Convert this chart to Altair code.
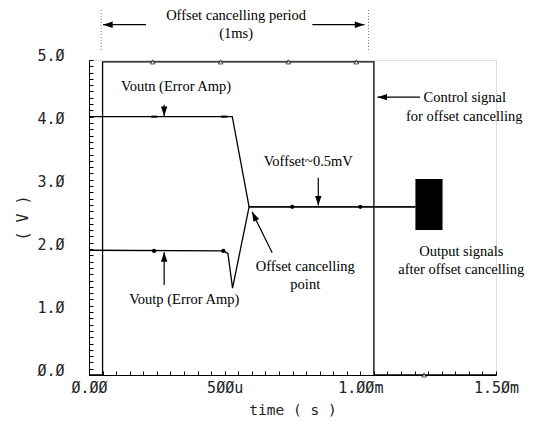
import altair as alt
import pandas as pd

# ---------------- data (time in ms, voltage in V) ----------------
ctrl_t = [0.0, 0.05, 0.05, 1.05, 1.05, 1.5]
ctrl_v = [0.0, 0.0, 4.97, 4.97, 0.0, 0.0]
voutn_t = [0.0, 0.528, 0.59, 1.203]
voutn_v = [4.10, 4.10, 2.67, 2.67]
voutp_t = [0.0, 0.496, 0.512, 0.529, 0.59, 1.203]
voutp_v = [1.98, 1.97, 1.93, 1.38, 2.67, 2.67]

ctrl_mark_t = [0.235, 0.485, 0.735, 0.985, 1.235]
ctrl_mark_v = [4.97, 4.97, 4.97, 4.97, 0.0]
voutn_mark_t = [0.24, 0.498]
voutn_mark_v = [4.10, 4.10]
voutp_mark_t = [0.24, 0.495]
voutp_mark_v = [1.97, 1.97]
common_mark_t = [0.749, 1.0]
common_mark_v = [2.67, 2.67]

burst_t = [1.203, 1.303]
burst_v = [2.30, 3.11]

x_major = [0.0, 0.5, 1.0, 1.5]
x_major_labels = ["0.00", "500u", "1.00m", "1.50m"]
y_major = [0, 1, 2, 3, 4, 5]
y_major_labels = ["0.0", "1.0", "2.0", "3.0", "4.0", "5.0"]
x_minor_step = 0.05
y_minor_step = 0.1

note_text = ["Offset cancelling period", "(1ms)", "Voutn (Error Amp)",
             "Control signal", "for offset cancelling", "Voffset~0.5mV",
             "Output signals", "after offset cancelling",
             "Offset cancelling", "point", "Voutp (Error Amp)"]
note_t = [0.542, 0.542, 0.321, 1.385, 1.383, 0.808, 1.372, 1.372, 0.797, 0.797, 0.351]
note_v = [5.70, 5.41, 4.57, 4.40, 4.10, 3.38, 1.95, 1.67, 1.71, 1.43, 1.19]

arrow_t = [0.277, 0.277, 0.845, 1.22, 0.675, 0.21, 0.823]
arrow_v = [4.29, 1.43, 3.13, 4.41, 1.94, 5.56, 5.56]
arrow_t2 = [0.277, 0.277, 0.845, 1.063, 0.601, 0.052, 1.015]
arrow_v2 = [4.11, 1.95, 2.69, 4.41, 2.59, 5.56, 5.56]
arrow_angle = [0, 180, 0, 90, 154, 90, 270]

guide_t = [0.045, 1.03]
guide_v = [5.16, 5.16]
guide_v2 = [5.86, 5.86]

# ---------------- tables ----------------
lines = pd.DataFrame(
    [{"s": "ctrl", "o": i, "t": t, "v": v} for i, (t, v) in enumerate(zip(ctrl_t, ctrl_v))]
    + [{"s": "voutn", "o": i, "t": t, "v": v} for i, (t, v) in enumerate(zip(voutn_t, voutn_v))]
    + [{"s": "voutp", "o": i, "t": t, "v": v} for i, (t, v) in enumerate(zip(voutp_t, voutp_v))]
)
tri = pd.DataFrame({"t": ctrl_mark_t, "v": ctrl_mark_v})
dash = pd.DataFrame({"t": voutn_mark_t, "v": voutn_mark_v})
dots = pd.DataFrame({"t": voutp_mark_t + common_mark_t, "v": voutp_mark_v + common_mark_v})
burst = pd.DataFrame({"t": [burst_t[0]], "t2": [burst_t[1]], "v": [burst_v[0]], "v2": [burst_v[1]]})
notes = pd.DataFrame({"txt": note_text, "t": note_t, "v": note_v})
arrows = pd.DataFrame({"t": arrow_t, "v": arrow_v, "t2": arrow_t2, "v2": arrow_v2, "a": arrow_angle})
guides = pd.DataFrame({"t": guide_t, "v": guide_v, "v2": guide_v2})

x_ticks = [round(i * x_minor_step, 2) for i in range(int(round(1.5 / x_minor_step)) + 1)]
y_ticks = [round(i * y_minor_step, 1) for i in range(int(round(5 / y_minor_step)) + 1)]


def lab_expr(majors, labels):
    parts = []
    for m, l in zip(majors, labels):
        parts.append(f"abs(datum.value - {m}) < 0.001 ? '{l.replace('0', 'Ø')}' : ")
    return "".join(parts) + "''"


MONO = "DejaVu Sans Mono"
SERIF = "Liberation Serif"

x_axis = alt.Axis(values=x_ticks, labelExpr=lab_expr(x_major, x_major_labels),
                  title="time ( s )", grid=False, tickSize={"expr": "-4"},
                  labelFont=MONO, labelFontSize=15, labelColor="#222", labelPadding=9,
                  labelOverlap=False, labelFlush=False, titleFont=MONO, titleFontSize=14.5,
                  titleFontWeight="normal", titleColor="#222", titlePadding=8,
                  domainColor="black", tickColor="black")
y_axis = alt.Axis(values=y_ticks, labelExpr=lab_expr(y_major, y_major_labels),
                  title="( V )", grid=False, tickSize={"expr": "-4"},
                  labelFont=MONO, labelFontSize=15, labelColor="#222", labelPadding=29,
                  labelOffset=-5, labelOverlap=False, labelFlush=False,
                  titleFont=MONO, titleFontSize=15,
                  titleFontWeight="normal", titleColor="#222", titlePadding=6,
                  domainColor="black", tickColor="black")

xs = alt.Scale(domain=[0, 1.5], nice=False, zero=False)
ys = alt.Scale(domain=[0, 5], nice=False, zero=False)
X = alt.X("t:Q", scale=xs, axis=x_axis)
Y = alt.Y("v:Q", scale=ys, axis=y_axis)

line_layer = alt.Chart(lines).mark_line(color="black", strokeWidth=1.3).encode(
    x=X, y=Y, detail="s:N", order="o:Q")
burst_layer = alt.Chart(burst).mark_rect(color="black").encode(
    x=X, x2="t2:Q", y=Y, y2="v2:Q")
tri_layer = alt.Chart(tri).mark_point(shape="triangle-up", size=22, color="black",
                                      fill="white", filled=False, strokeWidth=1).encode(x=X, y=Y)
dash_layer = alt.Chart(dash).mark_point(shape="stroke", size=40, color="black",
                                        strokeWidth=2.5).encode(x=X, y=Y)
dot_layer = alt.Chart(dots).mark_point(shape="circle", size=18, color="black",
                                       filled=True, opacity=1).encode(x=X, y=Y)
guide_layer = alt.Chart(guides).mark_rule(color="#777", strokeDash=[1, 2], strokeWidth=1).encode(
    x=X, y=Y, y2="v2:Q")
shaft_layer = alt.Chart(arrows).mark_rule(color="black", strokeWidth=1.2).encode(
    x=X, y=Y, x2="t2:Q", y2="v2:Q")
head_layer = alt.Chart(arrows).mark_point(shape="M0,0L-0.8,-2.4L0.8,-2.4Z", size=64,
                                          color="black", filled=True, opacity=1).encode(
    x=alt.X("t2:Q", scale=xs, axis=x_axis), y=alt.Y("v2:Q", scale=ys, axis=y_axis),
    angle=alt.Angle("a:Q", scale=None))
text_layer = alt.Chart(notes).mark_text(font=SERIF, fontSize=14.5, color="black",
                                        align="center", baseline="middle").encode(
    x=X, y=Y, text="txt:N")

chart = alt.layer(guide_layer, line_layer, burst_layer, tri_layer, dash_layer, dot_layer,
                  shaft_layer, head_layer, text_layer).properties(
    width=407, height=315,
    autosize=alt.AutoSizeParams(type="none"),
    padding={"left": 81, "top": 52, "right": 29, "bottom": 45},
).configure_view(stroke=None).configure(background="white")

chart.save("out.html", embed_options={"renderer": "svg", "actions": False})
